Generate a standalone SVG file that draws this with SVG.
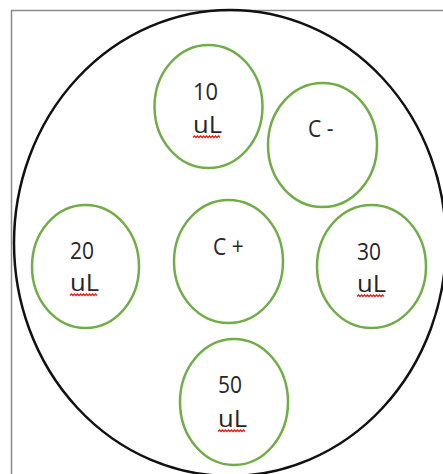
<svg xmlns="http://www.w3.org/2000/svg" width="443" height="474" viewBox="0 0 443 474">
<defs>
<style>
.frame{stroke:#8a8a8a;stroke-width:1.5;fill:none}
.dish{fill:none;stroke:#111;stroke-width:2.5}
.well{fill:none;stroke:#70ad47;stroke-width:2.5}
.t{font-family:"Open Sans","Liberation Sans",sans-serif;font-size:21px;fill:#262626}
.sq{fill:none;stroke:#e0201a;stroke-width:1.3}
</style>
</defs>
<rect width="443" height="474" fill="#fff"/>
<path class="frame" d="M11.5 474 V10.5 H443"/>
<ellipse class="dish" cx="230" cy="243" rx="216" ry="233"/>
<g id="well-10">
<ellipse class="well" cx="208.5" cy="106.5" rx="54" ry="61.5"/>
<text class="t" transform="translate(193,100) scale(1,1.1)" textLength="25" lengthAdjust="spacingAndGlyphs">10</text>
<text class="t" transform="translate(193,133) scale(1,1.1)" textLength="29" lengthAdjust="spacingAndGlyphs">uL</text>
<path class="sq" d="M193 137.5 l1.5 -1.5 l1.5 1.5 l1.5 -1.5 l1.5 1.5 l1.5 -1.5 l1.5 1.5 l1.5 -1.5 l1.5 1.5 l1.5 -1.5 l1.5 1.5 l1.5 -1.5 l1.5 1.5 l1.5 -1.5 l1.5 1.5 l1.5 -1.5 l1.5 1.5 l1.5 -1.5 l1.5 1.5"/>
</g>
<g id="well-cminus">
<ellipse class="well" cx="322.5" cy="145" rx="54.5" ry="62"/>
<text class="t" transform="translate(308,137) scale(1,1.1)">C -</text>
</g>
<g id="well-20">
<ellipse class="well" cx="85.5" cy="266.5" rx="53.5" ry="61.5"/>
<text class="t" transform="translate(70,259) scale(1,1.1)" textLength="24" lengthAdjust="spacingAndGlyphs">20</text>
<text class="t" transform="translate(70,291) scale(1,1.1)" textLength="29" lengthAdjust="spacingAndGlyphs">uL</text>
<path class="sq" d="M70 295.5 l1.5 -1.5 l1.5 1.5 l1.5 -1.5 l1.5 1.5 l1.5 -1.5 l1.5 1.5 l1.5 -1.5 l1.5 1.5 l1.5 -1.5 l1.5 1.5 l1.5 -1.5 l1.5 1.5 l1.5 -1.5 l1.5 1.5 l1.5 -1.5 l1.5 1.5 l1.5 -1.5 l1.5 1.5"/>
</g>
<g id="well-cplus">
<ellipse class="well" cx="228.5" cy="261.5" rx="54.5" ry="61.5"/>
<text class="t" transform="translate(213,255) scale(1,1.1)">C +</text>
</g>
<g id="well-30">
<ellipse class="well" cx="371.5" cy="266.5" rx="54.5" ry="61.5"/>
<text class="t" transform="translate(357,260) scale(1,1.1)" textLength="24" lengthAdjust="spacingAndGlyphs">30</text>
<text class="t" transform="translate(357,292) scale(1,1.1)" textLength="29" lengthAdjust="spacingAndGlyphs">uL</text>
<path class="sq" d="M357 296.5 l1.5 -1.5 l1.5 1.5 l1.5 -1.5 l1.5 1.5 l1.5 -1.5 l1.5 1.5 l1.5 -1.5 l1.5 1.5 l1.5 -1.5 l1.5 1.5 l1.5 -1.5 l1.5 1.5 l1.5 -1.5 l1.5 1.5 l1.5 -1.5 l1.5 1.5 l1.5 -1.5 l1.5 1.5"/>
</g>
<g id="well-50">
<ellipse class="well" cx="234" cy="402" rx="54" ry="63"/>
<text class="t" transform="translate(218,393) scale(1,1.1)" textLength="24" lengthAdjust="spacingAndGlyphs">50</text>
<text class="t" transform="translate(218,427) scale(1,1.1)" textLength="29" lengthAdjust="spacingAndGlyphs">uL</text>
<path class="sq" d="M218 431.5 l1.5 -1.5 l1.5 1.5 l1.5 -1.5 l1.5 1.5 l1.5 -1.5 l1.5 1.5 l1.5 -1.5 l1.5 1.5 l1.5 -1.5 l1.5 1.5 l1.5 -1.5 l1.5 1.5 l1.5 -1.5 l1.5 1.5 l1.5 -1.5 l1.5 1.5 l1.5 -1.5 l1.5 1.5"/>
</g>
<g id="connectors"></g>
</svg>
